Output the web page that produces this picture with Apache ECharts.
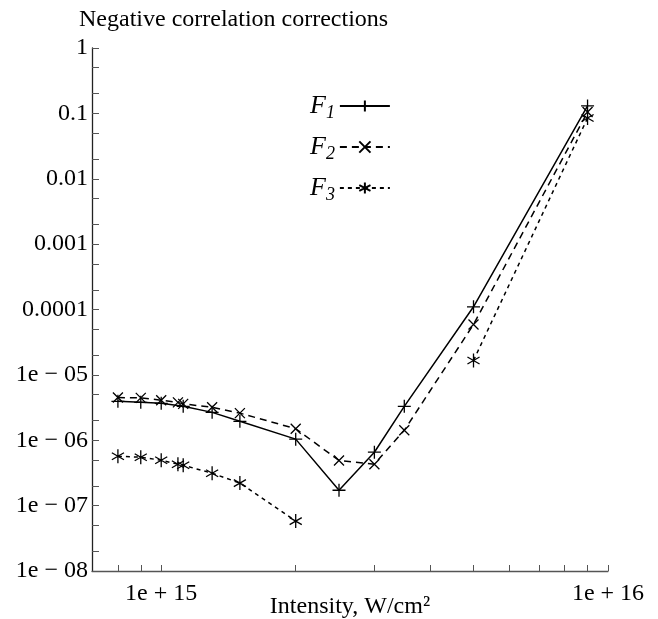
<!DOCTYPE html>
<html>
<head>
<meta charset="utf-8">
<script src="https://cdn.jsdelivr.net/npm/echarts@6/dist/echarts.min.js"></script>
<style>html,body{margin:0;padding:0;background:#fff}#c{width:658px;height:619px}</style>
</head>
<body>
<div id="c"></div>
<script>
// ---- data ----
const xF1 = [8e14, 9e14, 1e15, 1.12e15, 1.3e15, 1.5e15, 2e15, 2.5e15, 3e15, 3.5e15, 5e15, 9e15];
const yF1 = [3.94e-6, 3.8e-6, 3.67e-6, 3.3e-6, 2.67e-6, 1.95e-6, 1.04e-6, 1.72e-7, 6.56e-7, 3.3e-6, 1.1e-4, 0.13];
const xF2 = [8e14, 9e14, 1e15, 1.09e15, 1.12e15, 1.3e15, 1.5e15, 2e15, 2.5e15, 3e15, 3.5e15, 5e15, 9e15];
const yF2 = [4.5e-6, 4.45e-6, 4.1e-6, 3.8e-6, 3.6e-6, 3.2e-6, 2.6e-6, 1.5e-6, 4.9e-7, 4.3e-7, 1.42e-6, 5.9e-5, 0.105];
const xF3 = [8e14, 9e14, 1e15, 1.09e15, 1.12e15, 1.3e15, 1.5e15, 2e15, 3e15, 5e15, 9e15];
const yF3 = [5.7e-7, 5.5e-7, 4.95e-7, 4.3e-7, 4.15e-7, 3.13e-7, 2.21e-7, 5.8e-8, null, 1.66e-5, 0.085];
const seriesNames = ['F1', 'F2', 'F3'];
const xTickValues = [8e14, 9e14, 1e15, 2e15, 3e15, 4e15, 5e15, 6e15, 7e15, 8e15, 9e15, 1e16];
const xLabelValues = [1e15, 1e16];
const xLabelTexts = ['1e + 15', '1e + 16'];
const yLabelValues = [1e-8, 1e-7, 1e-6, 1e-5, 1e-4, 1e-3, 1e-2, 1e-1, 1];
const yLabelTexts = ['1e \u2212 08', '1e \u2212 07', '1e \u2212 06', '1e \u2212 05', '0.0001', '0.001', '0.01', '0.1', '1'];
const yTickValues = [];
yLabelValues.forEach(v => { yTickValues.push(v); if (v < 1) { yTickValues.push(v * 2, v * 5); } });

// ---- style ----
const FONT = '"Liberation Serif", "DejaVu Serif", serif';
const plusPath = 'path://M0,-1L0,1M-1,0L1,0';
const crossPath = 'path://M-1,-1L1,1M-1,1L1,-1';
const starPath = 'path://M0,-1L0,1M-0.866,-0.5L0.866,0.5M-0.866,0.5L0.866,-0.5';

function pairs(xs, ys) { return xs.map((x, i) => [x, ys[i] == null ? '-' : ys[i]]); }
function lbl(values, texts) { return v => { for (let i = 0; i < values.length; i++) { if (Math.abs(Math.log10(v) - Math.log10(values[i])) < 1e-6) return texts[i]; } return ''; }; }

const mk = (name, xs, ys, sym, size, dash) => ({
  name, type: 'line', data: pairs(xs, ys), connectNulls: false,
  symbol: sym, symbolSize: size, symbolKeepAspect: true, showAllSymbol: true,
  lineStyle: { color: '#000', width: 1.5, type: dash },
  itemStyle: { color: 'rgba(0,0,0,0)', borderColor: '#000', borderWidth: 1.3 },
  emphasis: { disabled: true }, animation: false
});

const chart = echarts.init(document.getElementById('c'), null, { renderer: 'canvas' });
chart.setOption({
  backgroundColor: '#fff',
  animation: false,
  title: { text: 'Negative correlation corrections', left: 74, top: 3,
    textStyle: { fontFamily: FONT, fontSize: 24, fontWeight: 'normal', color: '#000' } },
  grid: { left: 92, right: 50, top: 48, bottom: 48, outerBoundsMode: 'none', containLabel: false },
  legend: {
    orient: 'vertical', left: 305, top: 88, align: 'right', itemGap: 12,
    itemWidth: 50, itemHeight: 14, selectedMode: false,
    formatter: name => '{f|F}{s|' + name.slice(1) + '}',
    textStyle: { rich: {
      f: { fontFamily: FONT, fontStyle: 'italic', fontSize: 26, color: '#000' },
      s: { fontFamily: FONT, fontStyle: 'italic', fontSize: 18, color: '#000', padding: [14, 0, 0, 0] }
    } }
  },
  xAxis: {
    type: 'log', logBase: 10, min: 7e14, max: 1e16,
    name: 'Intensity, W/cm\u00b2', nameLocation: 'middle', nameGap: 24, nameMoveOverlap: false,
    nameTextStyle: { fontFamily: FONT, fontSize: 24, color: '#000', verticalAlign: 'top' },
    axisLine: { show: true, lineStyle: { color: '#555', width: 1.3 } },
    axisTick: { show: true, inside: true, length: 6, customValues: xTickValues, lineStyle: { color: '#555' } },
    axisLabel: { customValues: xLabelValues, formatter: lbl(xLabelValues, xLabelTexts), margin: 11,
      fontFamily: FONT, fontSize: 24, color: '#000' },
    splitLine: { show: false }, minorTick: { show: false }
  },
  yAxis: {
    type: 'log', logBase: 10, min: 1e-8, max: 1,
    axisLine: { show: true, lineStyle: { color: '#222', width: 1.3 } },
    axisTick: { show: true, inside: true, length: 7, customValues: yTickValues, lineStyle: { color: '#555' } },
    axisLabel: { customValues: yLabelValues, formatter: lbl(yLabelValues, yLabelTexts), margin: 4,
      fontFamily: FONT, fontSize: 24, color: '#000' },
    splitLine: { show: false }, minorTick: { show: false }
  },
  series: [
    mk(seriesNames[0], xF1, yF1, plusPath, 13, 'solid'),
    mk(seriesNames[1], xF2, yF2, crossPath, 10, [7, 5]),
    mk(seriesNames[2], xF3, yF3, starPath, 14, [4, 4])
  ]
});
</script>
</body>
</html>
